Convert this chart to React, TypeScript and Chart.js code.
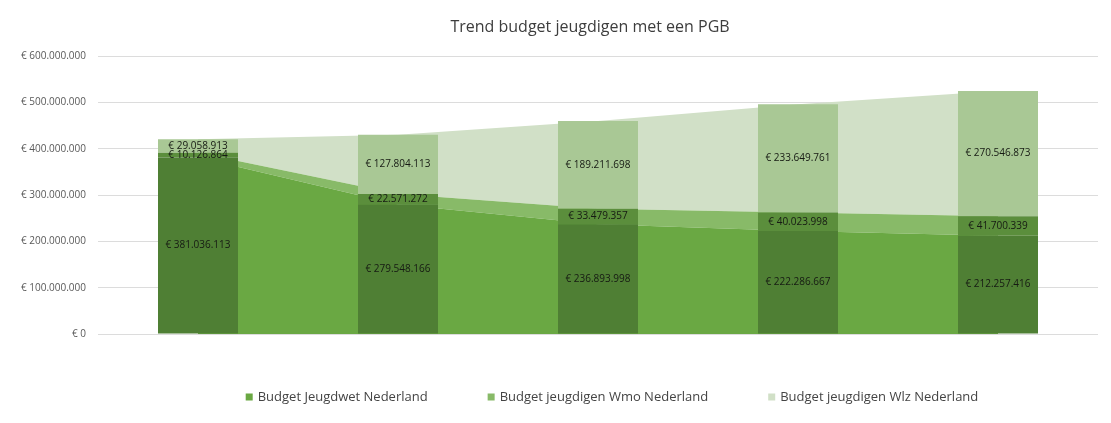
import React, { useEffect, useRef } from "react";
import { Chart, registerables } from "chart.js";

Chart.register(...registerables);

// ---- data ----
const categories = ["1", "2", "3", "4", "5"];
const seriesNames = [
  "Budget Jeugdwet Nederland",
  "Budget jeugdigen Wmo Nederland",
  "Budget jeugdigen Wlz Nederland",
];
const jeugdwet = [381036113, 279548166, 236893998, 222286667, 212257416];
const wmo = [10126864, 22571272, 33479357, 40023998, 41700339];
const wlz = [29058913, 127804113, 189211698, 233649761, 270546873];
const yTicks = [0, 100000000, 200000000, 300000000, 400000000, 500000000, 600000000];
const chartTitle = "Trend budget jeugdigen met een PGB";

// ---- styles ----
const barColors = ["#4f7f34", "#5b8e3c", "#a9c895"];
const areaColors = ["#6aa843", "#88ba68", "#d1e0c7"];
const FONT = "'Open Sans', 'DejaVu Sans', sans-serif";

const fmt = (v: number) =>
  "€ " + Math.round(v).toString().replace(/\B(?=(\d{3})+(?!\d))/g, ".");

const labelsPlugin = {
  id: "barLabels",
  afterDatasetsDraw(chart: any) {
    const ctx = chart.ctx;
    ctx.save();
    ctx.font = `10px ${FONT}`;
    ctx.fillStyle = "#161a13";
    ctx.textAlign = "center";
    ctx.textBaseline = "middle";
    chart.data.datasets.forEach((ds: any, i: number) => {
      if (ds.type !== "bar") return;
      const meta = chart.getDatasetMeta(i);
      meta.data.forEach((el: any, j: number) => {
        const p = el.getProps(["x", "y", "base"], true);
        ctx.fillText(fmt(ds.data[j]), p.x, (p.y + p.base) / 2);
      });
    });
    ctx.restore();
  },
};

const titleLegendPlugin = {
  id: "titleLegend",
  afterDraw(chart: any) {
    const ctx = chart.ctx;
    const area = chart.chartArea;
    const mid = (area.left + area.right) / 2;
    ctx.save();
    // title
    ctx.font = `16px ${FONT}`;
    ctx.fillStyle = "#3d3d3d";
    ctx.textAlign = "center";
    ctx.textBaseline = "middle";
    ctx.fillText(chartTitle, mid - 8, 27);
    // legend
    ctx.font = `13px ${FONT}`;
    const box = 7;
    const gapText = 5;
    const gapItem = 60;
    const items = chart.data.datasets.filter((d: any) => d.type === "line");
    const widths = items.map((d: any) => box + gapText + ctx.measureText(d.label).width);
    const total = widths.reduce((a: number, b: number) => a + b, 0) + gapItem * (items.length - 1);
    let x = mid + 14 - total / 2;
    const y = 397;
    ctx.textAlign = "left";
    items.forEach((d: any, i: number) => {
      ctx.fillStyle = d.backgroundColor;
      ctx.fillRect(x, y - box / 2, box, box);
      ctx.fillStyle = "#444444";
      ctx.fillText(d.label, x + box + gapText, y);
      x += widths[i] + gapItem;
    });
    ctx.restore();
  },
};

export default function App() {
  const ref = useRef<HTMLCanvasElement | null>(null);
  useEffect(() => {
    document.body.style.margin = "0";
    const series = [jeugdwet, wmo, wlz];
    const barSets = series.map((data, i) => ({
      type: "bar" as const,
      label: seriesNames[i],
      data,
      backgroundColor: barColors[i],
      borderWidth: 0,
      stack: "bars",
      order: 0,
      categoryPercentage: 1,
      barPercentage: 0.4,
    }));
    const areaSets = series.map((data, i) => ({
      type: "line" as const,
      label: seriesNames[i],
      data,
      backgroundColor: areaColors[i],
      borderWidth: 0,
      borderColor: "rgba(0,0,0,0)",
      pointRadius: 0,
      tension: 0,
      fill: i === 0 ? "origin" : "-1",
      stack: "areas",
      order: 1,
    }));
    const chart = new Chart(ref.current as HTMLCanvasElement, {
      type: "bar",
      data: { labels: categories, datasets: [...barSets, ...areaSets] as any },
      plugins: [labelsPlugin, titleLegendPlugin],
      options: {
        animation: false,
        responsive: false,
        layout: { padding: { left: 0, right: 13, top: 56, bottom: 89 } },
        plugins: {
          legend: { display: false },
          title: { display: false },
          tooltip: { enabled: false },
        },
        scales: {
          x: { display: false, stacked: true, offset: true },
          y: {
            stacked: true,
            min: 0,
            max: 600000000,
            afterFit: (s: any) => {
              s.width = 98;
            },
            afterBuildTicks: (s: any) => {
              s.ticks = yTicks.map((v) => ({ value: v }));
            },
            ticks: {
              padding: 12,
              color: "#595959",
              font: { family: FONT, size: 10 },
              callback: (v: any) => fmt(Number(v)),
            },
            grid: { color: "#dcdcdc", drawTicks: false },
            border: { display: false },
          },
        },
      } as any,
    });
    return () => chart.destroy();
  }, []);
  return <canvas ref={ref} width={1111} height={423} style={{ display: "block" }} />;
}
